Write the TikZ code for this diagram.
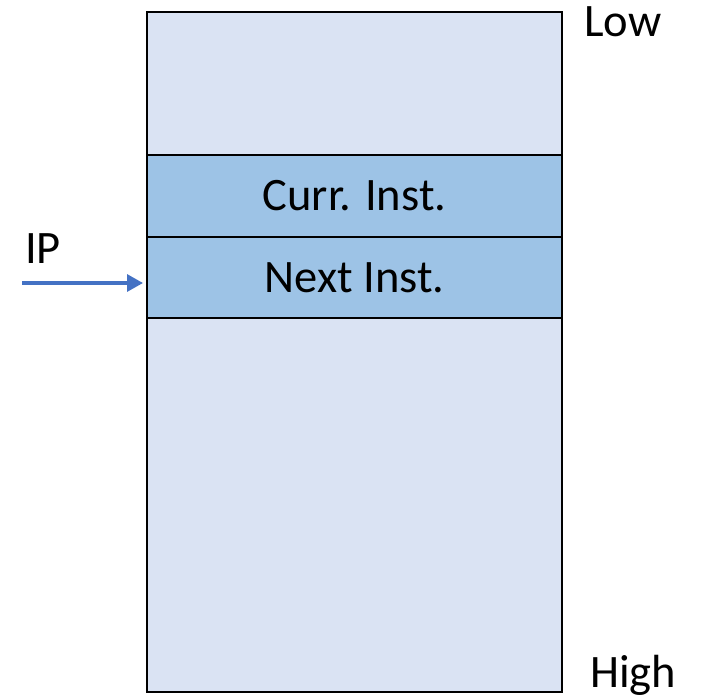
\documentclass[tikz,border=0pt]{standalone}
\usepackage{fontspec}
\setmainfont{Carlito}
\usetikzlibrary{arrows.meta}
\definecolor{memfill}{HTML}{DAE3F3}
\definecolor{instfill}{HTML}{9DC3E6}
\definecolor{ptrblue}{HTML}{4472C4}
\tikzset{
  memcell/.style={draw=black, line width=2pt, inner sep=0pt, outer sep=0pt, anchor=north west},
  lbl/.style={font=\fontsize{46.5}{52}\selectfont, inner sep=0pt},
}
\begin{document}
\begin{tikzpicture}[x=1pt, y=-1pt]
  \useasboundingbox (0,0) rectangle (702,699);
  % whole memory region
  \node[memcell, fill=memfill, minimum width=415pt, minimum height=680pt] (mem) at (147,12) {};
  % instruction slots
  \node[memcell, fill=instfill, minimum width=415pt, minimum height=82pt, lbl] (curr) at (147,155) {Curr. Inst.};
  \node[memcell, fill=instfill, minimum width=415pt, minimum height=81pt, lbl] (next) at (147,237) {Next Inst.};
  % address direction labels
  \node[lbl, anchor=west] (low) at (584,22) {Low};
  \node[lbl, anchor=west] (high) at (590,675) {High};
  % instruction pointer
  \node[lbl, anchor=west] (ip) at (25,249) {IP};
  \coordinate (ipstart) at (22,283);
  \draw[ptrblue, line width=3.2pt, -{Triangle[length=16pt, width=17pt]}, shorten >=4pt] (ipstart) -- (ipstart -| next.west);
\end{tikzpicture}
\end{document}
